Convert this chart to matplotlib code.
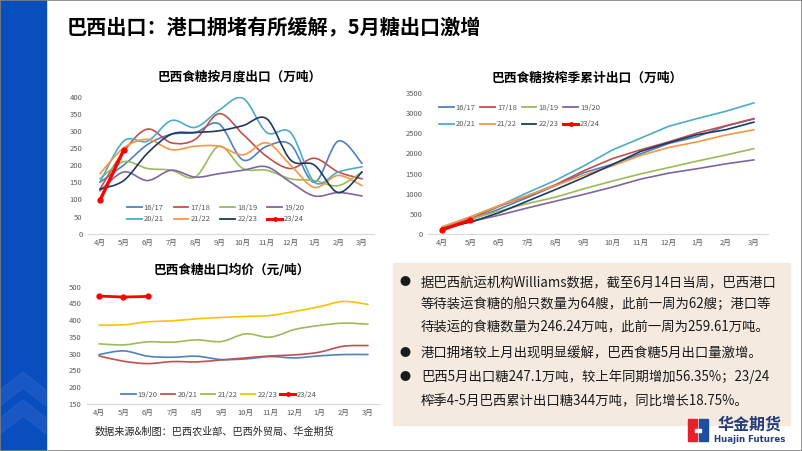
import matplotlib.pyplot as plt
from matplotlib.path import Path
from matplotlib.patches import PathPatch, Rectangle, Polygon
from matplotlib.lines import Line2D

plt.rcParams['font.family'] = ['Noto Sans CJK SC', 'DejaVu Sans']

months = ['4月', '5月', '6月', '7月', '8月', '9月', '10月', '11月', '12月', '1月', '2月', '3月']

# monthly exports (10k t)
seasons = ['16/17', '17/18', '18/19', '19/20', '20/21', '21/22', '22/23']
exp_1617 = [150, 200, 260, 290, 295, 320, 215, 255, 260, 150, 270, 205]
exp_1718 = [130, 240, 305, 265, 275, 350, 290, 225, 190, 220, 180, 160]
exp_1819 = [160, 210, 190, 185, 165, 255, 190, 185, 160, 155, 140, 180]
exp_1920 = [125, 180, 155, 185, 165, 175, 185, 195, 150, 110, 120, 110]
exp_2021 = [150, 270, 270, 330, 310, 360, 395, 295, 295, 150, 180, 195]
exp_2122 = [175, 250, 275, 245, 255, 255, 230, 265, 200, 135, 170, 140]
exp_2223 = [130, 155, 235, 290, 295, 300, 315, 335, 215, 200, 120, 180]
exp_2324 = [97, 244]

# cumulative exports by season (10k t)
cum_1617 = [150, 350, 610, 900, 1200, 1520, 1730, 1990, 2250, 2420, 2680, 2860]
cum_1718 = [130, 370, 680, 940, 1220, 1570, 1870, 2090, 2290, 2510, 2690, 2870]
cum_1819 = [160, 370, 560, 750, 910, 1120, 1310, 1490, 1650, 1810, 1960, 2120]
cum_1920 = [125, 300, 460, 640, 810, 980, 1160, 1360, 1510, 1620, 1740, 1840]
cum_2021 = [150, 420, 690, 1020, 1330, 1690, 2085, 2380, 2680, 2870, 3050, 3260]
cum_2122 = [175, 420, 700, 950, 1200, 1460, 1690, 1950, 2150, 2290, 2460, 2590]
cum_2223 = [130, 290, 520, 810, 1100, 1400, 1720, 2050, 2270, 2470, 2590, 2780]
cum_2324 = [97, 341]

# average export price
price_seasons = ['19/20', '20/21', '21/22', '22/23']
price_1920 = [297, 308, 292, 289, 292, 282, 284, 291, 287, 293, 297, 297]
price_2021 = [293, 277, 270, 276, 275, 281, 287, 293, 296, 304, 322, 324]
price_2122 = [329, 326, 335, 334, 341, 336, 359, 349, 372, 384, 391, 388]
price_2223 = [385, 386, 395, 398, 404, 408, 411, 414, 426, 440, 456, 447]
price_2324 = [472, 469, 471]

colors = ['#4F81BD', '#C0504D', '#9BBB59', '#8064A2', '#4BACC6', '#F79646', '#1F3864']
price_colors = ['#4F81BD', '#C0504D', '#9BBB59', '#FFC000']
RED = '#FF0000'
GRAY = '#595959'

W, H = 802, 451


def box(l, t, r, b):
    return [l / W, 1 - b / H, (r - l) / W, (b - t) / H]


def smooth_line(ax, y, color, lw=1.2):
    # Excel-style smoothed line drawn as bezier segments
    x = list(range(len(y)))
    n = len(y)
    verts = [(x[0], y[0])]
    codes = [Path.MOVETO]
    for i in range(n - 1):
        xp, yp = (x[i - 1], y[i - 1]) if i > 0 else (x[i], y[i])
        xn, yn = (x[i + 2], y[i + 2]) if i + 2 < n else (x[i + 1], y[i + 1])
        c1 = (x[i] + (x[i + 1] - xp) / 6, y[i] + (y[i + 1] - yp) / 6)
        c2 = (x[i + 1] - (xn - x[i]) / 6, y[i + 1] - (yn - y[i]) / 6)
        verts += [c1, c2, (x[i + 1], y[i + 1])]
        codes += [Path.CURVE4] * 3
    ax.add_patch(PathPatch(Path(verts, codes), fill=False, edgecolor=color, lw=lw,
                           capstyle='round', joinstyle='round'))


def style_axes(ax, ylim, yticks):
    ax.set_xlim(-0.5, 11.5)
    ax.set_ylim(*ylim)
    ax.set_yticks(yticks)
    ax.set_xticks(range(12))
    ax.set_xticklabels(months)
    for s in ['top', 'right', 'left']:
        ax.spines[s].set_visible(False)
    ax.spines['bottom'].set_color('#D9D9D9')
    ax.spines['bottom'].set_linewidth(0.8)
    ax.tick_params(length=0, labelsize=5.5, colors=GRAY, pad=4)
    ax.patch.set_alpha(0)


def legend_items(names, cols):
    hs = [Line2D([], [], color=c, lw=1.3) for c in cols]
    hs.append(Line2D([], [], color=RED, lw=2.2, marker='o', markersize=2.5))
    return hs, names + ['23/24']


def rowwise(items, ncol):
    # legend fills by column; reorder so entries read across rows
    nrow = (len(items) + ncol - 1) // ncol
    return [items[r * ncol + c] for c in range(ncol) for r in range(nrow) if r * ncol + c < len(items)]


fig = plt.figure(figsize=(8.02, 4.51), dpi=100)

# left blue band with chevrons
fig.patches.append(Rectangle((0, 0), 46 / W, 1, transform=fig.transFigure, color='#0A4DBE', zorder=0))
for top in [372, 400]:
    pts = [(0, top + 18), (23, top), (46, top + 18), (46, top + 34), (23, top + 16), (0, top + 34)]
    fig.patches.append(Polygon([(px / W, 1 - py / H) for px, py in pts], closed=True,
                               transform=fig.transFigure, color='#2C66CC', alpha=0.45, zorder=0))

fig.text(67 / W, 1 - 28 / H, '巴西出口：港口拥堵有所缓解，5月糖出口激增', fontsize=14.5,
         fontweight='bold', va='center', ha='left', color='black')

# chart 1: monthly exports
ax1 = fig.add_axes(box(88, 96.5, 374, 233.7))
style_axes(ax1, (0, 400), range(0, 401, 50))
for vals, c in zip([exp_1617, exp_1718, exp_1819, exp_1920, exp_2021, exp_2122, exp_2223], colors):
    smooth_line(ax1, vals, c)
ax1.plot(range(len(exp_2324)), exp_2324, color=RED, lw=2.4, marker='o', markersize=3.5, zorder=5)
fig.text(240 / W, 1 - 77 / H, '巴西食糖按月度出口（万吨）', fontsize=9.1, fontweight='bold',
         ha='center', va='center')
hs, labs = legend_items(seasons, colors)
fig.legend(handles=rowwise(hs, 4), labels=rowwise(labs, 4), ncol=4,
           loc='upper left', bbox_to_anchor=(127 / W, 1 - 204 / H), frameon=False,
           fontsize=5.5, labelcolor=GRAY, handlelength=1.9, handletextpad=0.3,
           columnspacing=1.3, labelspacing=0.45, borderpad=0, borderaxespad=0)

# chart 2: cumulative exports
ax2 = fig.add_axes(box(428, 93.3, 768, 233.7))
style_axes(ax2, (0, 3500), range(0, 3501, 500))
for vals, c in zip([cum_1617, cum_1718, cum_1819, cum_1920, cum_2021, cum_2122, cum_2223], colors):
    ax2.plot(range(12), vals, color=c, lw=1.2)
ax2.plot(range(len(cum_2324)), cum_2324, color=RED, lw=2.4, marker='o', markersize=3.5, zorder=5)
fig.text(587 / W, 1 - 78 / H, '巴西食糖按榨季累计出口（万吨）', fontsize=9.2, fontweight='bold',
         ha='center', va='center')
fig.legend(handles=rowwise(hs, 4), labels=rowwise(labs, 4), ncol=4,
           loc='upper left', bbox_to_anchor=(439 / W, 1 - 104 / H), frameon=False,
           fontsize=5.5, labelcolor=GRAY, handlelength=1.9, handletextpad=0.3,
           columnspacing=0.6, labelspacing=1.1, borderpad=0, borderaxespad=0)

# chart 3: average export price
ax3 = fig.add_axes(box(86.8, 286.7, 380.2, 403.7))
style_axes(ax3, (150, 500), range(150, 501, 50))
for vals, c in zip([price_1920, price_2021, price_2122, price_2223], price_colors):
    smooth_line(ax3, vals, c)
ax3.plot(range(len(price_2324)), price_2324, color=RED, lw=2.0, marker='o', markersize=3.5, zorder=5)
fig.text(232 / W, 1 - 270 / H, '巴西食糖出口均价（元/吨）', fontsize=9.1, fontweight='bold',
         ha='center', va='center')
hs3, labs3 = legend_items(price_seasons, price_colors)
fig.legend(handles=hs3, labels=labs3,
           ncol=5, loc='center left', bbox_to_anchor=(121 / W, 1 - 395 / H), frameon=False,
           fontsize=5.5, labelcolor=GRAY, handlelength=1.9, handletextpad=0.3,
           columnspacing=0.4, borderpad=0, borderaxespad=0)

fig.text(95 / W, 1 - 432 / H, '数据来源&制图：巴西农业部、巴西外贸局、华金期货', fontsize=7.3,
         ha='left', va='center', color='#262626')

# text box
fig.patches.append(Rectangle((393 / W, 1 - 425 / H), 397 / W, 162 / H, transform=fig.transFigure,
                             color='#F4EAE0', zorder=0))
lines = [
    (282, True, '据巴西航运机构Williams数据，截至6月14日当周，巴西港口'),
    (304, False, '等待装运食糖的船只数量为64艘，此前一周为62艘；港口等'),
    (327, False, '待装运的食糖数量为246.24万吨，此前一周为259.61万吨。'),
    (353, True, '港口拥堵较上月出现明显缓解，巴西食糖5月出口量激增。'),
    (377, True, '巴西5月出口糖247.1万吨，较上年同期增加56.35%；23/24'),
    (401, False, '榨季4-5月巴西累计出口糖344万吨，同比增长18.75%。'),
]
for y, bullet, txt in lines:
    if bullet:
        fig.text(405 / W, 1 - y / H, '●', fontsize=8, ha='center', va='center', color='#1a1a1a')
    fig.text(421 / W, 1 - y / H, txt, fontsize=9.6, ha='left', va='center', color='#1a1a1a')

# logo
fig.patches.append(Rectangle((688 / W, 1 - 441 / H), 9 / W, 22 / H, transform=fig.transFigure,
                             color='#E8202A', zorder=2))
fig.patches.append(Rectangle((699 / W, 1 - 441 / H), 9 / W, 22 / H, transform=fig.transFigure,
                             color='#1D4FA0', zorder=2))
fig.patches.append(Rectangle((695 / W, 1 - 432 / H), 6 / W, 3 / H, transform=fig.transFigure,
                             color='white', zorder=3))
fig.text(750 / W, 1 - 425 / H, '华金期货', fontsize=11.5, fontweight='bold', ha='center',
         va='center', color='#233E7A')
fig.text(750 / W, 1 - 439 / H, 'Huajin Futures', fontsize=6.2, fontweight='bold', ha='center',
         va='center', color='#233E7A', family=['DejaVu Sans'])

# outer border
fig.patches.append(Rectangle((0, 0), 1, 1, transform=fig.transFigure, fill=False,
                             edgecolor='#808080', lw=1.2, zorder=10))

fig.savefig('out.png', dpi=100)
